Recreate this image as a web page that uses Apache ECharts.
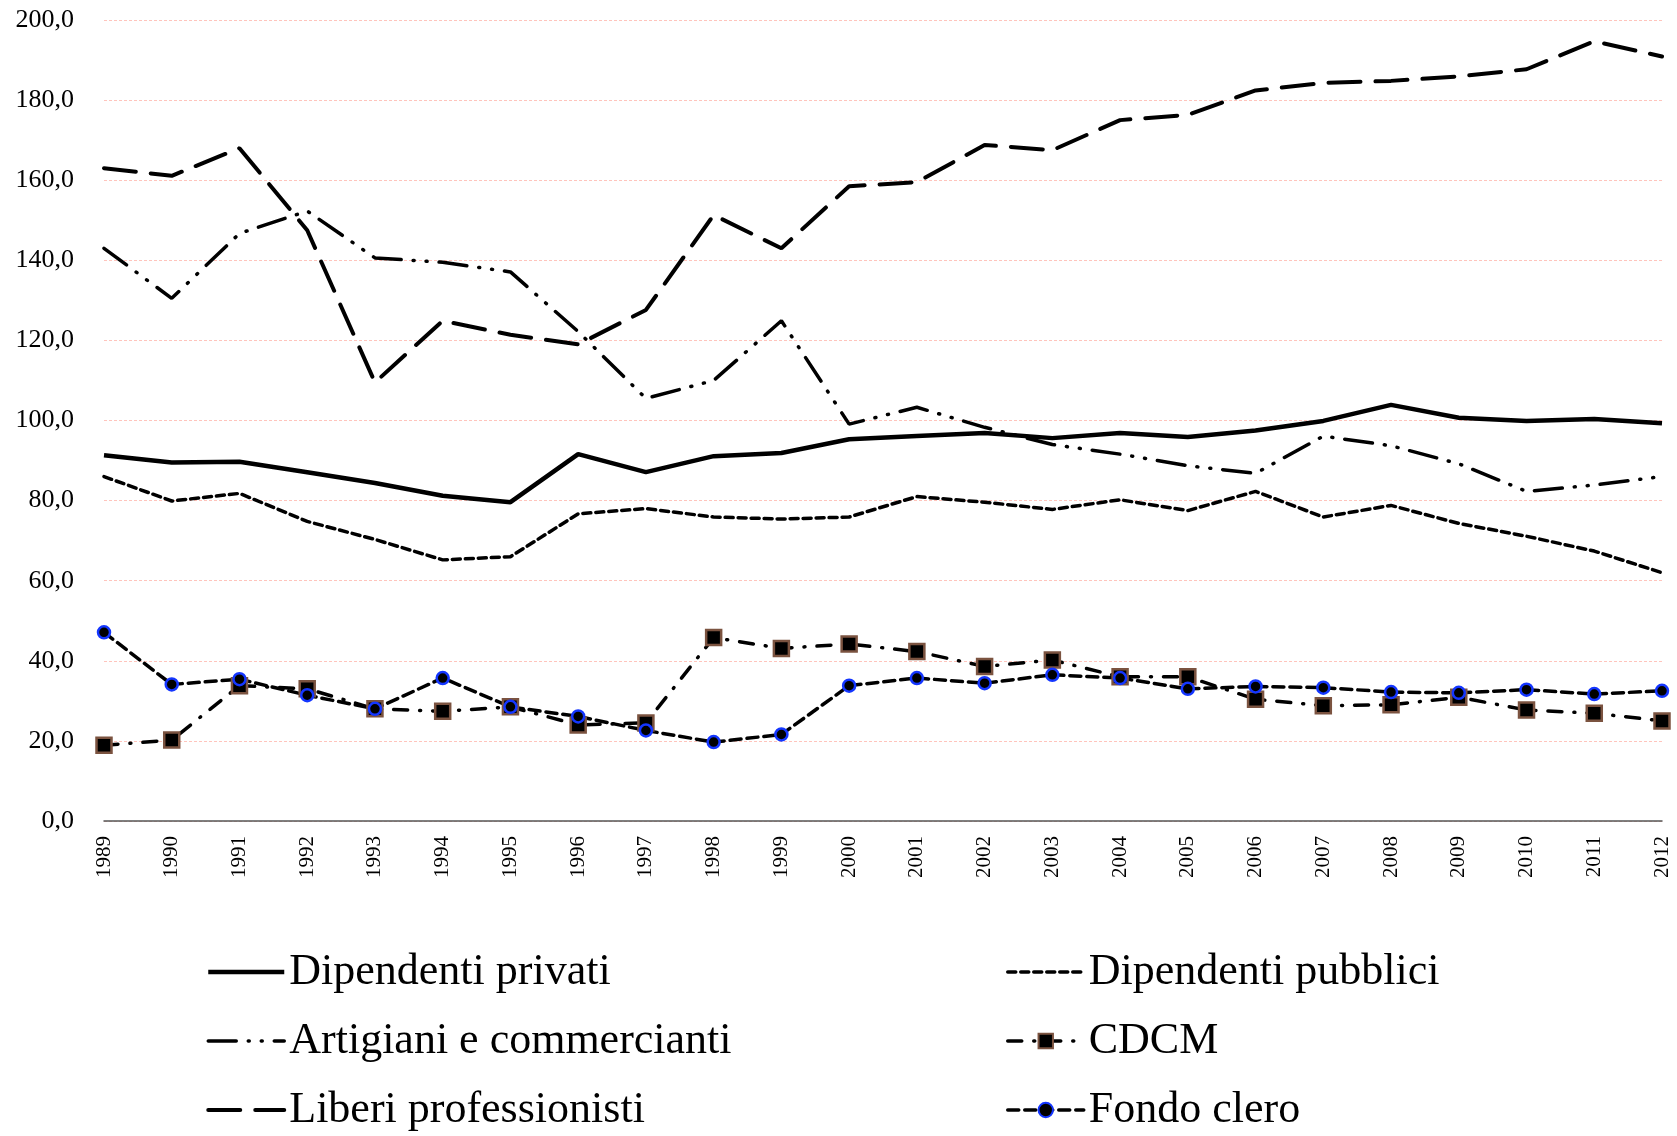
<!DOCTYPE html>
<html>
<head>
<meta charset="utf-8">
<script src="https://cdn.jsdelivr.net/npm/echarts@6/dist/echarts.min.js"></script>
<style>
  html, body { margin: 0; padding: 0; background: #fff; }
  #chart { width: 1677px; height: 1136px; }
</style>
</head>
<body>
<div id="chart"></div>
<script>
const years = ['1989','1990','1991','1992','1993','1994','1995','1996','1997','1998','1999','2000',
  '2001','2002','2003','2004','2005','2006','2007','2008','2009','2010','2011','2012']

const dipPrivati = [91.3, 89.5, 89.7, 87.1, 84.4, 81.2, 79.6, 91.6, 87.1, 91.1, 91.9, 95.3,
  96.1, 96.9, 95.6, 96.9, 95.9, 97.5, 99.9, 103.9, 100.7, 99.9, 100.4, 99.3]
const dipPubblici = [86.0, 79.9, 81.8, 74.8, 70.3, 65.2, 66.0, 76.7, 78.0, 75.9, 75.4, 75.9,
  81.0, 79.6, 77.8, 80.2, 77.5, 82.3, 75.9, 78.8, 74.3, 71.1, 67.4, 62.0]
const artigiani = [143.0, 130.5, 146.7, 152.3, 140.6, 139.5, 137.1, 122.2, 105.5, 110.0, 124.9, 99.1,
  103.3, 98.3, 94.0, 91.6, 88.7, 86.8, 96.1, 93.7, 89.2, 82.3, 83.9, 86.0]
const liberi = [163.0, 161.1, 168.0, 147.5, 109.5, 124.9, 121.4, 119.0, 127.6, 151.3, 143.0, 158.5,
  159.5, 168.8, 167.5, 175.0, 176.3, 182.4, 184.3, 184.8, 185.9, 187.7, 194.7, 190.9]
const cdcm = [18.9, 20.2, 33.8, 33.0, 28.0, 27.4, 28.5, 24.0, 24.5, 45.8, 43.1, 44.2,
  42.3, 38.6, 40.2, 36.0, 36.0, 30.4, 28.8, 29.0, 30.9, 27.7, 26.9, 25.0]
const fondoClero = [47.1, 34.1, 35.4, 31.4, 28.0, 35.7, 28.5, 26.1, 22.6, 19.7, 21.6, 33.8,
  35.7, 34.4, 36.5, 35.7, 33.0, 33.6, 33.3, 32.2, 32.0, 32.8, 31.7, 32.5]

const serif = '"Liberation Serif", "DejaVu Serif", serif'

const chart = echarts.init(document.getElementById('chart'))

// legend entries for plain lines: hide the default circle, keep the thick line
const lineOnly = (name, w) => ({ name, itemStyle: { opacity: 0 }, lineStyle: { width: w } })

const legendBase = {
  orient: 'vertical',
  top: 950,
  height: 186,
  padding: 0,
  itemWidth: 76,
  itemHeight: 18,
  itemGap: 25,
  textStyle: { fontFamily: serif, fontSize: 44, color: '#000' }
}

const option = {
  animation: false,
  backgroundColor: '#ffffff',
  grid: { left: 104, right: 15, top: 20, bottom: 315 },
  legend: [
    Object.assign({}, legendBase, {
      left: 206,
      data: [
        lineOnly('Dipendenti privati', 4.5),
        lineOnly('Artigiani e commercianti', 3.5),
        lineOnly('Liberi professionisti', 4)
      ]
    }),
    Object.assign({}, legendBase, {
      left: 1006,
      data: [
        lineOnly('Dipendenti pubblici', 3.5),
        { name: 'CDCM', lineStyle: { width: 3.5 } },
        { name: 'Fondo clero', lineStyle: { width: 3.5 } }
      ]
    })
  ],
  xAxis: {
    type: 'category',
    data: years,
    boundaryGap: false,
    axisLine: { lineStyle: { color: '#555', width: 1.5 } },
    axisTick: { show: false },
    axisLabel: { rotate: 90, fontFamily: serif, fontSize: 21, color: '#000', margin: 15, interval: 0 }
  },
  yAxis: {
    type: 'value',
    min: 0,
    max: 200,
    interval: 20,
    axisLine: { show: false },
    axisTick: { show: false },
    axisLabel: {
      fontFamily: serif, fontSize: 26, color: '#000', margin: 30,
      formatter: v => v.toFixed(1).replace('.', ',')
    },
    splitLine: { lineStyle: { color: '#ffc4bc', type: [3, 2], width: 1 } }
  },
  series: [
    {
      name: 'Dipendenti privati',
      type: 'line',
      data: dipPrivati,
      symbol: 'none',
      lineStyle: { color: '#000', width: 4.5 },
      itemStyle: { color: '#000' }
    },
    {
      name: 'Dipendenti pubblici',
      type: 'line',
      data: dipPubblici,
      symbol: 'none',
      lineStyle: { color: '#000', width: 3.5, type: [8, 5], cap: 'round' },
      itemStyle: { color: '#000' }
    },
    {
      name: 'Artigiani e commercianti',
      type: 'line',
      data: artigiani,
      symbol: 'none',
      lineStyle: { color: '#000', width: 3.5, type: [28, 12, 1, 12, 1, 12], cap: 'round' },
      itemStyle: { color: '#000' }
    },
    {
      name: 'CDCM',
      type: 'line',
      data: cdcm,
      symbol: 'rect',
      symbolSize: 15,
      lineStyle: { color: '#000', width: 3.5, type: [14, 12, 1, 12], cap: 'round' },
      itemStyle: { color: '#000', borderColor: '#7b5340', borderWidth: 2.5 }
    },
    {
      name: 'Liberi professionisti',
      type: 'line',
      data: liberi,
      symbol: 'none',
      lineStyle: { color: '#000', width: 4, type: [32, 15], cap: 'round' },
      itemStyle: { color: '#000' }
    },
    {
      name: 'Fondo clero',
      type: 'line',
      data: fondoClero,
      symbol: 'circle',
      symbolSize: 12,
      lineStyle: { color: '#000', width: 3.5, type: [11, 6], cap: 'round' },
      itemStyle: { color: '#000', borderColor: '#1436ff', borderWidth: 2.5 }
    }
  ]
}

chart.setOption(option)
</script>
</body>
</html>
